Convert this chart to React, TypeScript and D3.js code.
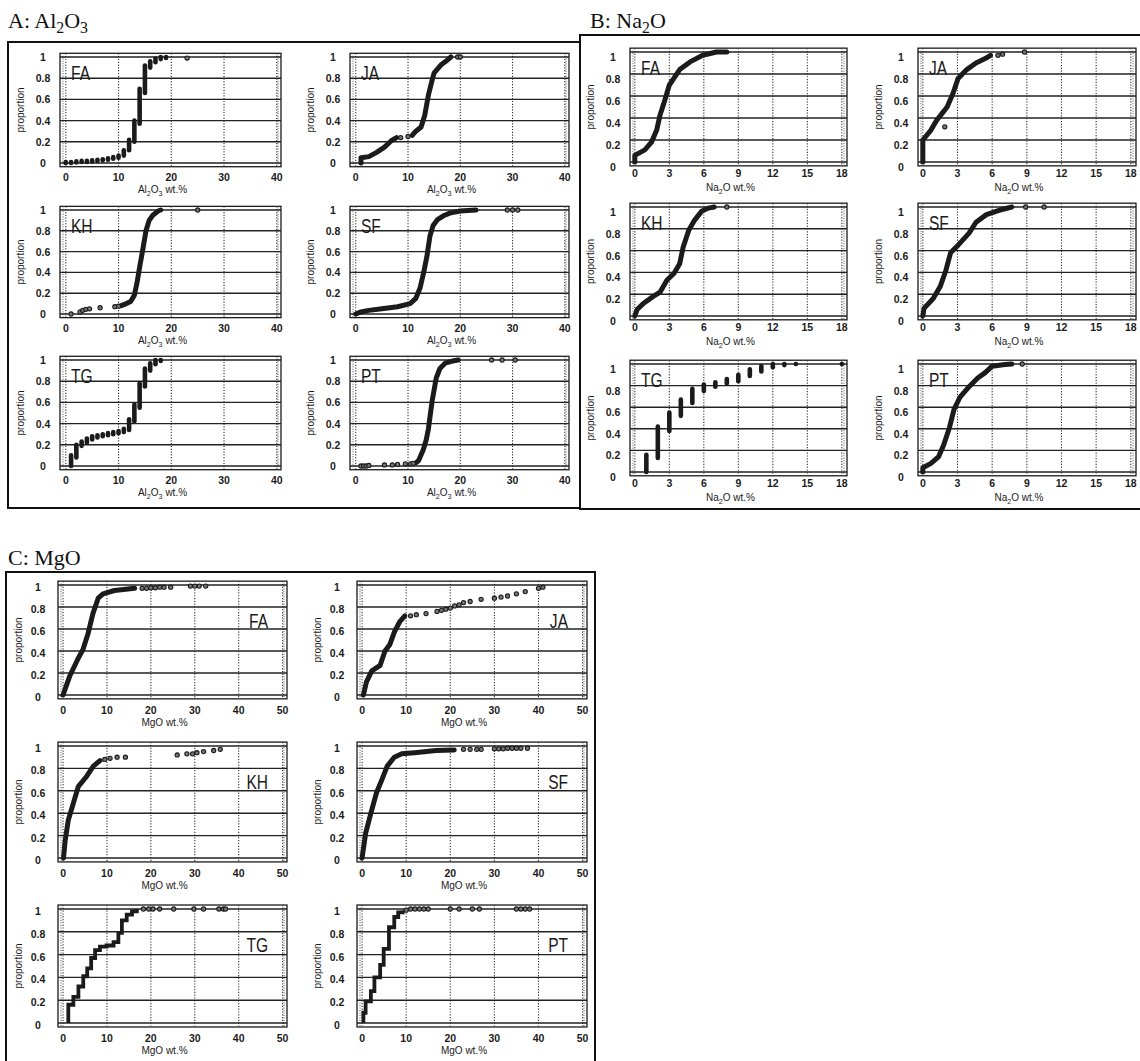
import React from 'react';
import * as d3 from 'd3';

type Pt = [number, number];
type Bar = [number, number, number];
type Seg = [string, boolean];

const sites = ['FA', 'JA', 'KH', 'SF', 'TG', 'PT'];
const yTicks = [0, 0.2, 0.4, 0.6, 0.8, 1];
const yTickLabels = ['0', '0.2', '0.4', '0.6', '0.8', '1'];
const alTicks = [0, 10, 20, 30, 40];
const naTicks = [0, 3, 6, 9, 12, 15, 18];
const mgTicks = [0, 10, 20, 30, 40, 50];

// ---- A: Al2O3 ----
const alFA: Bar[] = [[0, 0, 0.01], [1, 0, 0.01], [2, 0.005, 0.015], [3, 0.01, 0.02], [4, 0.01, 0.02], [5, 0.015, 0.025], [6, 0.02, 0.03], [7, 0.025, 0.035], [8, 0.03, 0.045], [9, 0.04, 0.055], [10, 0.05, 0.07], [11, 0.07, 0.12], [12, 0.12, 0.22], [13, 0.2, 0.4], [14, 0.37, 0.7], [15, 0.66, 0.92], [16, 0.9, 0.96], [17, 0.95, 0.985], [18, 0.98, 1], [19, 0.99, 1]];
const alFAPts: Pt[] = [[23, 0.99]];
const alJALow: Pt[] = [[1, 0], [1, 0.05], [2.5, 0.06], [4, 0.1], [5.5, 0.15], [6.8, 0.21], [7.8, 0.24]];
const alJAHigh: Pt[] = [[10.8, 0.26], [11.5, 0.3], [12.5, 0.34], [13.2, 0.45], [13.9, 0.64], [14.5, 0.76], [15, 0.85], [16.4, 0.93], [17.5, 0.97], [18.2, 1]];
const alJAPts: Pt[] = [[8.6, 0.24], [10, 0.25], [19.5, 1], [20, 1]];
const alKH: Pt[] = [[10.5, 0.08], [11.5, 0.1], [12.3, 0.12], [13, 0.18], [13.5, 0.3], [14, 0.45], [14.6, 0.62], [15.2, 0.8], [15.8, 0.9], [16.5, 0.95], [17.5, 0.99], [18, 1]];
const alKHPts: Pt[] = [[1, 0], [2.7, 0.02], [3.2, 0.035], [3.8, 0.045], [4.5, 0.05], [6.5, 0.06], [9.3, 0.07], [10, 0.075], [25, 1]];
const alSF: Pt[] = [[0, 0], [1, 0.02], [2.5, 0.035], [5, 0.05], [8, 0.07], [10.4, 0.1], [11.5, 0.15], [12.3, 0.25], [13, 0.4], [13.6, 0.55], [14.2, 0.75], [14.8, 0.85], [15.7, 0.91], [17, 0.95], [18, 0.97], [20, 0.99], [23, 1]];
const alSFPts: Pt[] = [[29, 1], [30, 1], [31, 1]];
const alTG: Bar[] = [[1, 0, 0.1], [2, 0.08, 0.2], [3, 0.19, 0.23], [4, 0.22, 0.26], [5, 0.25, 0.28], [6, 0.27, 0.29], [7, 0.28, 0.3], [8, 0.29, 0.31], [9, 0.3, 0.32], [10, 0.31, 0.33], [11, 0.32, 0.35], [12, 0.34, 0.44], [13, 0.42, 0.58], [14, 0.55, 0.78], [15, 0.75, 0.92], [16, 0.9, 0.97], [17, 0.96, 1], [18, 0.99, 1]];
const alPT: Pt[] = [[11.5, 0.03], [12, 0.05], [12.9, 0.15], [13.5, 0.25], [13.9, 0.35], [14.6, 0.61], [15.4, 0.83], [16.1, 0.92], [17.1, 0.97], [18.5, 0.99], [19.6, 1]];
const alPTPts: Pt[] = [[1, 0], [1.5, 0], [2, 0], [2.5, 0.005], [5.5, 0.01], [7, 0.01], [8, 0.015], [9.5, 0.02], [10.5, 0.02], [11, 0.025], [26, 1], [28, 1], [30.5, 1]];

// ---- B: Na2O ----
const naFA: Pt[] = [[0, 0], [0, 0.06], [0.87, 0.11], [1.45, 0.18], [1.9, 0.29], [2.2, 0.43], [2.6, 0.56], [3, 0.7], [3.9, 0.84], [4.8, 0.91], [5.9, 0.97], [7.1, 1], [8, 1]];
const naJA: Pt[] = [[0, 0], [0, 0.2], [0.7, 0.29], [1.2, 0.38], [1.65, 0.44], [2.1, 0.5], [2.6, 0.62], [3.05, 0.76], [3.8, 0.84], [4.6, 0.9], [5.4, 0.94], [5.85, 0.97]];
const naJAPts: Pt[] = [[1.9, 0.32], [6.5, 0.97], [6.9, 0.98], [8.8, 1]];
const naKH: Pt[] = [[0, 0], [0.2, 0.06], [0.8, 0.12], [1.6, 0.18], [2.2, 0.22], [2.8, 0.33], [3.4, 0.39], [3.9, 0.48], [4.2, 0.63], [4.7, 0.79], [5.2, 0.88], [5.8, 0.96], [6.4, 0.99], [6.9, 1]];
const naKHPts: Pt[] = [[8, 1]];
const naSF: Pt[] = [[0, 0], [0.1, 0.07], [0.9, 0.16], [1.5, 0.27], [2, 0.42], [2.4, 0.58], [3.05, 0.65], [4, 0.76], [4.6, 0.86], [5.5, 0.93], [6.6, 0.97], [7.7, 1]];
const naSFPts: Pt[] = [[8.9, 1], [10.5, 1]];
const naTG: Bar[] = [[1, 0, 0.16], [2, 0.13, 0.42], [3, 0.38, 0.55], [4, 0.52, 0.67], [5, 0.64, 0.77], [6, 0.75, 0.81], [7, 0.79, 0.83], [8, 0.82, 0.86], [9, 0.84, 0.9], [10, 0.89, 0.95], [11, 0.93, 0.98], [12, 0.97, 1], [13, 0.99, 1], [14, 1, 1], [18, 1, 1]];
const naPT: Pt[] = [[0, 0], [0, 0.04], [0.7, 0.08], [1.35, 0.14], [1.8, 0.25], [2.3, 0.41], [2.7, 0.58], [3.2, 0.69], [4, 0.79], [4.75, 0.87], [5.4, 0.92], [6, 0.98], [7.1, 0.995], [7.7, 1]];
const naPTPts: Pt[] = [[8.6, 1]];

// ---- C: MgO ----
const mgFA: Pt[] = [[0, 0], [1.5, 0.17], [3.4, 0.33], [4.5, 0.41], [5.7, 0.56], [6.8, 0.74], [8, 0.88], [9.1, 0.92], [11.7, 0.95], [16.3, 0.97]];
const mgFAPts: Pt[] = [[18, 0.97], [19, 0.97], [20, 0.975], [21, 0.975], [22, 0.98], [23, 0.98], [24.5, 0.98], [29, 0.99], [30, 0.99], [31, 0.99], [32.5, 0.99]];
const mgJA: Pt[] = [[0.3, 0], [1, 0.12], [2.2, 0.22], [4.1, 0.27], [5.2, 0.4], [6.3, 0.46], [7.4, 0.58], [8.6, 0.67], [9.7, 0.72]];
const mgJAPts: Pt[] = [[11, 0.72], [12.3, 0.73], [14.5, 0.74], [17, 0.76], [18, 0.77], [19, 0.78], [20, 0.79], [21, 0.81], [22, 0.82], [23, 0.84], [24.5, 0.85], [27, 0.87], [30, 0.88], [31.5, 0.89], [33, 0.9], [35, 0.92], [37, 0.94], [40, 0.97], [41, 0.98]];
const mgKH: Pt[] = [[0.1, 0], [0.5, 0.16], [1.2, 0.34], [2.35, 0.49], [3.5, 0.64], [5.4, 0.73], [6.9, 0.82], [8.4, 0.87]];
const mgKHPts: Pt[] = [[9.5, 0.88], [10.7, 0.89], [12.3, 0.9], [14.2, 0.9], [26, 0.92], [28.2, 0.93], [29.5, 0.93], [30.5, 0.94], [32, 0.95], [34.3, 0.96], [35.8, 0.97]];
const mgSF: Pt[] = [[0, 0], [0.8, 0.22], [2, 0.4], [3.25, 0.58], [4.5, 0.7], [5.7, 0.82], [7.3, 0.9], [9, 0.93], [11.9, 0.94], [16.8, 0.96], [20.9, 0.965]];
const mgSFPts: Pt[] = [[23, 0.97], [24.5, 0.97], [26, 0.97], [27, 0.97], [30, 0.975], [31, 0.975], [32, 0.975], [33, 0.98], [34, 0.98], [35, 0.98], [36, 0.98], [37.5, 0.98]];
const mgTG: Pt[] = [[1.2, 0], [1.2, 0.16], [2.35, 0.23], [3.5, 0.32], [4.6, 0.41], [5.5, 0.48], [6.4, 0.57], [7.3, 0.64], [8.4, 0.67], [9.9, 0.68], [11.5, 0.71], [12.6, 0.79], [13.4, 0.9], [14.5, 0.95], [15.7, 0.98], [16.8, 1]];
const mgTGPts: Pt[] = [[18.3, 1], [19.5, 1], [20.5, 1], [22, 1], [25.2, 1], [29.8, 1], [32, 1], [35.5, 1], [36.5, 1], [37, 1]];
const mgPT: Pt[] = [[0.3, 0], [0.3, 0.09], [0.8, 0.19], [2, 0.28], [2.8, 0.4], [4.1, 0.51], [4.9, 0.65], [6.1, 0.84], [7.3, 0.93], [8.2, 0.97], [9.2, 0.99]];
const mgPTPts: Pt[] = [[10, 0.99], [11, 1], [12, 1], [13, 1], [14, 1], [15, 1], [20, 1], [22, 1], [25, 1], [26.6, 1], [35, 1], [36, 1], [37, 1], [38, 1]];

type Series = { lines?: Pt[][]; steps?: Pt[]; bars?: Bar[]; pts?: Pt[] };

const panels = [
  {
    title: [['A: Al', false], ['2', true], ['O', false], ['3', true]] as Seg[],
    tx: 8, ty: 28, box: [8, 42, 580, 508],
    xlab: [['Al', false], ['2', true], ['O', false], ['3', true], [' wt.%', false]] as Seg[],
    ticks: alTicks, domain: [-1.1, 40.8],
    cols: [[60, 281], [350, 569]], rows: [[57, 163], [210, 314], [360, 466]],
    side: 'left', tickDy: 18, labDy: 30, yLabDy: 0, yLabDx: 17,
    series: [
      { bars: alFA, pts: alFAPts },
      { lines: [alJALow, alJAHigh], pts: alJAPts },
      { lines: [alKH], pts: alKHPts },
      { lines: [alSF], pts: alSFPts },
      { bars: alTG },
      { lines: [alPT], pts: alPTPts },
    ] as Series[],
  },
  {
    title: [['B: Na', false], ['2', true], ['O', false]] as Seg[],
    tx: 590, ty: 28, box: [580, 35, 1146, 509],
    xlab: [['Na', false], ['2', true], ['O wt.%', false]] as Seg[],
    ticks: naTicks, domain: [-0.42, 18.45],
    cols: [[630, 847], [918, 1136]], rows: [[52, 162], [207, 316], [364, 472]],
    side: 'left', tickDy: 15, labDy: 29, yLabDy: 5, yLabDx: 17,
    series: [
      { lines: [naFA] },
      { lines: [naJA], pts: naJAPts },
      { lines: [naKH], pts: naKHPts },
      { lines: [naSF], pts: naSFPts },
      { bars: naTG },
      { lines: [naPT], pts: naPTPts },
    ] as Series[],
  },
  {
    title: [['C: MgO', false]] as Seg[],
    tx: 8, ty: 565, box: [6, 572, 595, 1066],
    xlab: [['MgO wt.%', false]] as Seg[],
    ticks: mgTicks, domain: [-1.15, 51],
    cols: [[58, 287], [357, 587]], rows: [[585, 695], [746, 858], [909, 1023]],
    side: 'right', tickDy: 19, labDy: 31, yLabDy: 2, yLabDx: 20,
    series: [
      { lines: [mgFA], pts: mgFAPts },
      { lines: [mgJA], pts: mgJAPts },
      { lines: [mgKH], pts: mgKHPts },
      { lines: [mgSF], pts: mgSFPts },
      { steps: mgTG, pts: mgTGPts },
      { steps: mgPT, pts: mgPTPts },
    ] as Series[],
  },
];

const ink = '#1b1b1b';
const sans = "'Liberation Sans', Arial, sans-serif";

function SubText({ segs, size, sub }: { segs: Seg[]; size: number; sub: number }) {
  let low = false;
  return (
    <>
      {segs.map(([t, isSub], k) => {
        const dy = isSub && !low ? sub : !isSub && low ? -sub : 0;
        low = isSub;
        return (
          <tspan key={k} dy={dy} fontSize={isSub ? size * 0.72 : size}>{t}</tspan>
        );
      })}
    </>
  );
}

function Plot({ p, i }: { p: typeof panels[number]; i: number }) {
  const [cx0, cx1] = p.cols[i % 2];
  const [ry1, ry0] = p.rows[Math.floor(i / 2)];
  const x = d3.scaleLinear().domain(p.domain).range([cx0, cx1]);
  const y = d3.scaleLinear().domain([0, 1]).range([ry0, ry1]);
  const top = y(1.035);
  const bot = y(-0.035);
  const s = p.series[i];
  const line = d3.line<Pt>().x(d => x(d[0])).y(d => y(d[1]));
  const step = d3.line<Pt>().x(d => x(d[0])).y(d => y(d[1])).curve(d3.curveStepAfter);
  const mid = (cx0 + cx1) / 2 - 8;
  const nameX = p.side === 'left' ? cx0 + 11 : cx1 - 19;
  const nameY = p.side === 'left' ? ry1 + 23 : ry1 + 43;

  return (
    <g>
      <rect x={cx0} y={top} width={cx1 - cx0} height={bot - top} fill="#fff" stroke={ink} strokeWidth={1.3} />
      <line x1={cx0 + 3} x2={cx0 + 3} y1={top} y2={bot} stroke="#555" strokeWidth={1} strokeDasharray="1,1.5" />
      <line x1={cx1 - 3} x2={cx1 - 3} y1={top} y2={bot} stroke="#555" strokeWidth={1} strokeDasharray="1,1.5" />
      {p.ticks.map(t => (
        <line key={t} x1={x(t)} x2={x(t)} y1={top} y2={bot} stroke="#333" strokeWidth={1.1} strokeDasharray="1.2,1.6" />
      ))}
      {yTicks.map(t => (
        <line key={t} x1={cx0} x2={cx1} y1={y(t)} y2={y(t)} stroke="#222" strokeWidth={1.4} />
      ))}
      {yTicks.map((t, k) => (
        <text key={t} x={cx0 - p.yLabDx} y={y(t) + 4 + p.yLabDy} textAnchor="middle" fontSize={10.5} fontWeight="bold" fontFamily={sans} fill={ink}>
          {yTickLabels[k]}
        </text>
      ))}
      {p.ticks.map(t => (
        <text key={t} x={x(t)} y={ry0 + p.tickDy} textAnchor="middle" fontSize={10.5} fontWeight="bold" fontFamily={sans} fill={ink}>
          {t}
        </text>
      ))}
      <text x={mid} y={ry0 + p.labDy} textAnchor="middle" fontSize={10} fontFamily={sans} fill={ink}>
        <SubText segs={p.xlab} size={10} sub={2.5} />
      </text>
      <text
        transform={`translate(${cx0 - 36},${(ry0 + ry1) / 2}) rotate(-90)`}
        textAnchor="middle" fontSize={10} fontFamily={sans} fill={ink}
      >
        proportion
      </text>
      <text
        transform={`translate(${nameX},${nameY}) scale(0.74,1)`}
        textAnchor={p.side === 'left' ? 'start' : 'end'}
        fontSize={21} fontFamily={sans} fill={ink}
      >
        {sites[i]}
      </text>
      {(s.lines || []).map((d, k) => (
        <path key={k} d={line(d) || ''} fill="none" stroke={ink} strokeWidth={5} strokeLinejoin="round" strokeLinecap="round" />
      ))}
      {s.steps && (
        <path d={step(s.steps) || ''} fill="none" stroke={ink} strokeWidth={3.8} strokeLinejoin="miter" />
      )}
      {(s.bars || []).map((b, k) => (
        <line key={k} x1={x(b[0])} x2={x(b[0])} y1={y(b[1])} y2={y(b[2])} stroke={ink} strokeWidth={4.6} strokeLinecap="round" />
      ))}
      {(s.pts || []).map((d, k) => (
        <circle key={k} cx={x(d[0])} cy={y(d[1])} r={2.1} fill="#777" stroke={ink} strokeWidth={1.1} />
      ))}
    </g>
  );
}

export default function App() {
  return (
    <svg width={1140} height={1061} style={{ position: 'absolute', left: 0, top: 0, background: '#fff' }}>
      {panels.map((p, pi) => (
        <g key={pi}>
          <rect x={p.box[0]} y={p.box[1]} width={p.box[2] - p.box[0]} height={p.box[3] - p.box[1]} fill="none" stroke="#111" strokeWidth={2} />
          <text x={p.tx} y={p.ty} fontSize={22} fontFamily="'Liberation Serif', 'Times New Roman', serif" fill="#111">
            <SubText segs={p.title} size={22} sub={5} />
          </text>
          {sites.map((_, i) => <Plot key={i} p={p} i={i} />)}
        </g>
      ))}
    </svg>
  );
}
